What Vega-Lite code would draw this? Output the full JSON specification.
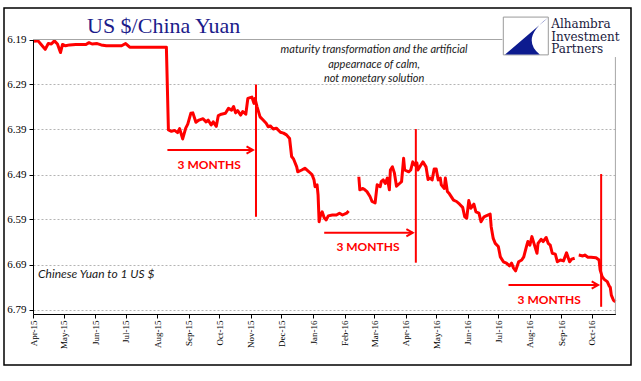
{
  "$schema": "https://vega.github.io/schema/vega-lite/v6.json",
  "width": 627,
  "height": 357,
  "autosize": {"type": "none"},
  "padding": {"left": 4, "top": 8, "right": 10, "bottom": 16},
  "background": "white",
  "config": {"view": {"stroke": "black", "strokeWidth": 1.5}},
  "title": {"text": "US $/China Yuan", "font": "Liberation Serif", "fontSize": 22, "fontWeight": "normal", "color": "#1b1b8a", "anchor": "start", "frame": "group", "dx": 83, "offset": -23, "dy": 24, "baseline": "alphabetic"},
  "data": {"values": [{}]},
  "datasets": {
    "rate": [
      {"date": "2015-04-02", "rate": 6.194, "seg": 1},
      {"date": "2015-04-06", "rate": 6.193, "seg": 1},
      {"date": "2015-04-09", "rate": 6.201, "seg": 1},
      {"date": "2015-04-13", "rate": 6.212, "seg": 1},
      {"date": "2015-04-16", "rate": 6.199, "seg": 1},
      {"date": "2015-04-19", "rate": 6.200, "seg": 1},
      {"date": "2015-04-22", "rate": 6.193, "seg": 1},
      {"date": "2015-04-25", "rate": 6.200, "seg": 1},
      {"date": "2015-04-28", "rate": 6.219, "seg": 1},
      {"date": "2015-04-30", "rate": 6.201, "seg": 1},
      {"date": "2015-05-03", "rate": 6.204, "seg": 1},
      {"date": "2015-05-07", "rate": 6.202, "seg": 1},
      {"date": "2015-05-13", "rate": 6.201, "seg": 1},
      {"date": "2015-05-18", "rate": 6.201, "seg": 1},
      {"date": "2015-05-23", "rate": 6.201, "seg": 1},
      {"date": "2015-05-26", "rate": 6.197, "seg": 1},
      {"date": "2015-05-29", "rate": 6.200, "seg": 1},
      {"date": "2015-06-03", "rate": 6.199, "seg": 1},
      {"date": "2015-06-07", "rate": 6.202, "seg": 1},
      {"date": "2015-06-12", "rate": 6.204, "seg": 1},
      {"date": "2015-06-20", "rate": 6.204, "seg": 1},
      {"date": "2015-06-27", "rate": 6.204, "seg": 1},
      {"date": "2015-07-01", "rate": 6.199, "seg": 1},
      {"date": "2015-07-05", "rate": 6.207, "seg": 1},
      {"date": "2015-07-12", "rate": 6.207, "seg": 1},
      {"date": "2015-07-22", "rate": 6.207, "seg": 1},
      {"date": "2015-07-31", "rate": 6.207, "seg": 1},
      {"date": "2015-08-07", "rate": 6.207, "seg": 1},
      {"date": "2015-08-10", "rate": 6.207, "seg": 1},
      {"date": "2015-08-12", "rate": 6.391, "seg": 1},
      {"date": "2015-08-15", "rate": 6.394, "seg": 1},
      {"date": "2015-08-18", "rate": 6.392, "seg": 1},
      {"date": "2015-08-21", "rate": 6.397, "seg": 1},
      {"date": "2015-08-23", "rate": 6.388, "seg": 1},
      {"date": "2015-08-26", "rate": 6.411, "seg": 1},
      {"date": "2015-08-29", "rate": 6.387, "seg": 1},
      {"date": "2015-08-31", "rate": 6.378, "seg": 1},
      {"date": "2015-09-03", "rate": 6.354, "seg": 1},
      {"date": "2015-09-05", "rate": 6.353, "seg": 1},
      {"date": "2015-09-08", "rate": 6.374, "seg": 1},
      {"date": "2015-09-11", "rate": 6.369, "seg": 1},
      {"date": "2015-09-15", "rate": 6.366, "seg": 1},
      {"date": "2015-09-18", "rate": 6.373, "seg": 1},
      {"date": "2015-09-20", "rate": 6.369, "seg": 1},
      {"date": "2015-09-23", "rate": 6.380, "seg": 1},
      {"date": "2015-09-25", "rate": 6.373, "seg": 1},
      {"date": "2015-09-28", "rate": 6.383, "seg": 1},
      {"date": "2015-09-30", "rate": 6.359, "seg": 1},
      {"date": "2015-10-03", "rate": 6.356, "seg": 1},
      {"date": "2015-10-07", "rate": 6.354, "seg": 1},
      {"date": "2015-10-10", "rate": 6.343, "seg": 1},
      {"date": "2015-10-13", "rate": 6.347, "seg": 1},
      {"date": "2015-10-15", "rate": 6.339, "seg": 1},
      {"date": "2015-10-17", "rate": 6.353, "seg": 1},
      {"date": "2015-10-19", "rate": 6.348, "seg": 1},
      {"date": "2015-10-22", "rate": 6.358, "seg": 1},
      {"date": "2015-10-24", "rate": 6.350, "seg": 1},
      {"date": "2015-10-27", "rate": 6.356, "seg": 1},
      {"date": "2015-10-29", "rate": 6.321, "seg": 1},
      {"date": "2015-11-02", "rate": 6.318, "seg": 1},
      {"date": "2015-11-04", "rate": 6.332, "seg": 1},
      {"date": "2015-11-05", "rate": 6.321, "seg": 1},
      {"date": "2015-11-07", "rate": 6.339, "seg": 1},
      {"date": "2015-11-10", "rate": 6.362, "seg": 1},
      {"date": "2015-11-13", "rate": 6.369, "seg": 1},
      {"date": "2015-11-16", "rate": 6.376, "seg": 1},
      {"date": "2015-11-18", "rate": 6.384, "seg": 1},
      {"date": "2015-11-20", "rate": 6.382, "seg": 1},
      {"date": "2015-11-23", "rate": 6.389, "seg": 1},
      {"date": "2015-11-26", "rate": 6.387, "seg": 1},
      {"date": "2015-11-30", "rate": 6.396, "seg": 1},
      {"date": "2015-12-03", "rate": 6.398, "seg": 1},
      {"date": "2015-12-06", "rate": 6.402, "seg": 1},
      {"date": "2015-12-09", "rate": 6.410, "seg": 1},
      {"date": "2015-12-11", "rate": 6.450, "seg": 1},
      {"date": "2015-12-13", "rate": 6.456, "seg": 1},
      {"date": "2015-12-16", "rate": 6.473, "seg": 1},
      {"date": "2015-12-17", "rate": 6.484, "seg": 1},
      {"date": "2015-12-21", "rate": 6.480, "seg": 1},
      {"date": "2015-12-24", "rate": 6.476, "seg": 1},
      {"date": "2015-12-27", "rate": 6.482, "seg": 1},
      {"date": "2015-12-31", "rate": 6.490, "seg": 1},
      {"date": "2016-01-02", "rate": 6.502, "seg": 1},
      {"date": "2016-01-03", "rate": 6.517, "seg": 1},
      {"date": "2016-01-05", "rate": 6.513, "seg": 1},
      {"date": "2016-01-06", "rate": 6.536, "seg": 1},
      {"date": "2016-01-07", "rate": 6.595, "seg": 1},
      {"date": "2016-01-08", "rate": 6.584, "seg": 1},
      {"date": "2016-01-10", "rate": 6.573, "seg": 1},
      {"date": "2016-01-12", "rate": 6.586, "seg": 1},
      {"date": "2016-01-14", "rate": 6.591, "seg": 1},
      {"date": "2016-01-16", "rate": 6.582, "seg": 1},
      {"date": "2016-01-20", "rate": 6.580, "seg": 1},
      {"date": "2016-01-24", "rate": 6.580, "seg": 1},
      {"date": "2016-01-27", "rate": 6.576, "seg": 1},
      {"date": "2016-01-30", "rate": 6.580, "seg": 1},
      {"date": "2016-02-03", "rate": 6.576, "seg": 1},
      {"date": "2016-02-05", "rate": 6.571, "seg": 1},
      {"date": "2016-02-15", "rate": 6.495, "seg": 2},
      {"date": "2016-02-16", "rate": 6.524, "seg": 2},
      {"date": "2016-02-19", "rate": 6.521, "seg": 2},
      {"date": "2016-02-21", "rate": 6.524, "seg": 2},
      {"date": "2016-02-23", "rate": 6.528, "seg": 2},
      {"date": "2016-02-26", "rate": 6.539, "seg": 2},
      {"date": "2016-02-28", "rate": 6.550, "seg": 2},
      {"date": "2016-03-02", "rate": 6.553, "seg": 2},
      {"date": "2016-03-04", "rate": 6.513, "seg": 2},
      {"date": "2016-03-07", "rate": 6.517, "seg": 2},
      {"date": "2016-03-08", "rate": 6.506, "seg": 2},
      {"date": "2016-03-10", "rate": 6.502, "seg": 2},
      {"date": "2016-03-12", "rate": 6.510, "seg": 2},
      {"date": "2016-03-14", "rate": 6.498, "seg": 2},
      {"date": "2016-03-16", "rate": 6.524, "seg": 2},
      {"date": "2016-03-17", "rate": 6.480, "seg": 2},
      {"date": "2016-03-19", "rate": 6.473, "seg": 2},
      {"date": "2016-03-21", "rate": 6.487, "seg": 2},
      {"date": "2016-03-23", "rate": 6.516, "seg": 2},
      {"date": "2016-03-26", "rate": 6.510, "seg": 2},
      {"date": "2016-03-28", "rate": 6.506, "seg": 2},
      {"date": "2016-03-30", "rate": 6.454, "seg": 2},
      {"date": "2016-03-31", "rate": 6.480, "seg": 2},
      {"date": "2016-04-04", "rate": 6.484, "seg": 2},
      {"date": "2016-04-06", "rate": 6.480, "seg": 2},
      {"date": "2016-04-08", "rate": 6.462, "seg": 2},
      {"date": "2016-04-10", "rate": 6.469, "seg": 2},
      {"date": "2016-04-12", "rate": 6.464, "seg": 2},
      {"date": "2016-04-13", "rate": 6.480, "seg": 2},
      {"date": "2016-04-16", "rate": 6.469, "seg": 2},
      {"date": "2016-04-18", "rate": 6.462, "seg": 2},
      {"date": "2016-04-21", "rate": 6.473, "seg": 2},
      {"date": "2016-04-23", "rate": 6.501, "seg": 2},
      {"date": "2016-04-25", "rate": 6.498, "seg": 2},
      {"date": "2016-04-27", "rate": 6.502, "seg": 2},
      {"date": "2016-04-29", "rate": 6.478, "seg": 2},
      {"date": "2016-05-01", "rate": 6.478, "seg": 2},
      {"date": "2016-05-03", "rate": 6.502, "seg": 2},
      {"date": "2016-05-05", "rate": 6.498, "seg": 2},
      {"date": "2016-05-06", "rate": 6.513, "seg": 2},
      {"date": "2016-05-09", "rate": 6.521, "seg": 2},
      {"date": "2016-05-10", "rate": 6.498, "seg": 2},
      {"date": "2016-05-12", "rate": 6.528, "seg": 2},
      {"date": "2016-05-14", "rate": 6.533, "seg": 2},
      {"date": "2016-05-18", "rate": 6.547, "seg": 2},
      {"date": "2016-05-21", "rate": 6.550, "seg": 2},
      {"date": "2016-05-24", "rate": 6.556, "seg": 2},
      {"date": "2016-05-27", "rate": 6.563, "seg": 2},
      {"date": "2016-05-29", "rate": 6.584, "seg": 2},
      {"date": "2016-05-31", "rate": 6.587, "seg": 2},
      {"date": "2016-06-02", "rate": 6.548, "seg": 2},
      {"date": "2016-06-04", "rate": 6.565, "seg": 2},
      {"date": "2016-06-07", "rate": 6.556, "seg": 2},
      {"date": "2016-06-09", "rate": 6.573, "seg": 2},
      {"date": "2016-06-12", "rate": 6.576, "seg": 2},
      {"date": "2016-06-14", "rate": 6.595, "seg": 2},
      {"date": "2016-06-17", "rate": 6.584, "seg": 2},
      {"date": "2016-06-19", "rate": 6.582, "seg": 2},
      {"date": "2016-06-23", "rate": 6.578, "seg": 2},
      {"date": "2016-06-24", "rate": 6.606, "seg": 2},
      {"date": "2016-06-26", "rate": 6.632, "seg": 2},
      {"date": "2016-06-28", "rate": 6.643, "seg": 2},
      {"date": "2016-07-01", "rate": 6.650, "seg": 2},
      {"date": "2016-07-03", "rate": 6.673, "seg": 2},
      {"date": "2016-07-06", "rate": 6.684, "seg": 2},
      {"date": "2016-07-09", "rate": 6.687, "seg": 2},
      {"date": "2016-07-12", "rate": 6.693, "seg": 2},
      {"date": "2016-07-14", "rate": 6.687, "seg": 2},
      {"date": "2016-07-16", "rate": 6.698, "seg": 2},
      {"date": "2016-07-18", "rate": 6.704, "seg": 2},
      {"date": "2016-07-21", "rate": 6.684, "seg": 2},
      {"date": "2016-07-24", "rate": 6.680, "seg": 2},
      {"date": "2016-07-26", "rate": 6.673, "seg": 2},
      {"date": "2016-07-29", "rate": 6.647, "seg": 2},
      {"date": "2016-07-30", "rate": 6.639, "seg": 2},
      {"date": "2016-08-01", "rate": 6.647, "seg": 2},
      {"date": "2016-08-03", "rate": 6.628, "seg": 2},
      {"date": "2016-08-05", "rate": 6.643, "seg": 2},
      {"date": "2016-08-08", "rate": 6.665, "seg": 2},
      {"date": "2016-08-09", "rate": 6.643, "seg": 2},
      {"date": "2016-08-12", "rate": 6.634, "seg": 2},
      {"date": "2016-08-14", "rate": 6.639, "seg": 2},
      {"date": "2016-08-17", "rate": 6.630, "seg": 2},
      {"date": "2016-08-19", "rate": 6.643, "seg": 2},
      {"date": "2016-08-21", "rate": 6.647, "seg": 2},
      {"date": "2016-08-23", "rate": 6.665, "seg": 2},
      {"date": "2016-08-26", "rate": 6.667, "seg": 2},
      {"date": "2016-08-28", "rate": 6.684, "seg": 2},
      {"date": "2016-08-31", "rate": 6.680, "seg": 2},
      {"date": "2016-09-03", "rate": 6.682, "seg": 2},
      {"date": "2016-09-06", "rate": 6.664, "seg": 2},
      {"date": "2016-09-09", "rate": 6.684, "seg": 2},
      {"date": "2016-09-11", "rate": 6.678, "seg": 2},
      {"date": "2016-09-14", "rate": 6.676, "seg": 2},
      {"date": "2016-09-18", "rate": 6.669, "seg": 3},
      {"date": "2016-09-22", "rate": 6.671, "seg": 3},
      {"date": "2016-09-24", "rate": 6.669, "seg": 3},
      {"date": "2016-09-27", "rate": 6.674, "seg": 3},
      {"date": "2016-09-30", "rate": 6.674, "seg": 3},
      {"date": "2016-10-05", "rate": 6.675, "seg": 3},
      {"date": "2016-10-08", "rate": 6.680, "seg": 3},
      {"date": "2016-10-09", "rate": 6.702, "seg": 3},
      {"date": "2016-10-11", "rate": 6.717, "seg": 3},
      {"date": "2016-10-13", "rate": 6.723, "seg": 3},
      {"date": "2016-10-16", "rate": 6.728, "seg": 3},
      {"date": "2016-10-18", "rate": 6.738, "seg": 3},
      {"date": "2016-10-19", "rate": 6.741, "seg": 3},
      {"date": "2016-10-20", "rate": 6.758, "seg": 3},
      {"date": "2016-10-22", "rate": 6.769, "seg": 3},
      {"date": "2016-10-24", "rate": 6.773, "seg": 3}
    ],
    "vlines": [
      {"date": "2015-11-06", "top": 6.29, "bottom": 6.584},
      {"date": "2016-04-11", "top": 6.389, "bottom": 6.686},
      {"date": "2016-10-10", "top": 6.489, "bottom": 6.784}
    ],
    "arrows": [
      {"start": "2015-08-11", "end": "2015-11-03", "level": 6.4356},
      {"start": "2016-01-12", "end": "2016-04-08", "level": 6.6193},
      {"start": "2016-07-11", "end": "2016-10-07", "level": 6.7356}
    ],
    "labels": [
      {"date": "2015-09-21", "rate": 6.4767, "text": "3 MONTHS"},
      {"date": "2016-02-24", "rate": 6.661, "text": "3 MONTHS"},
      {"date": "2016-08-20", "rate": 6.7778, "text": "3 MONTHS"}
    ]
  },
  "layer": [
    {
      "data": {"name": "rate"},
      "mark": {"type": "line", "color": "#ff0000", "strokeWidth": 3, "strokeJoin": "round"},
      "encoding": {
        "x": {
          "field": "date", "type": "temporal",
          "scale": {"type": "utc", "domain": [{"year": 2015, "month": 4, "date": 1, "utc": true}, {"year": 2016, "month": 10, "date": 24, "utc": true}], "range": [29, 611.4], "nice": false},
          "axis": {"orient": "bottom", "offset": -51, "format": "%b-%y", "labelAngle": 270, "labelFont": "Liberation Serif", "labelFontSize": 9, "labelColor": "black", "tickColor": "black", "domainColor": "black", "tickSize": 4, "labelPadding": 2, "tickCount": {"interval": "month", "step": 1}, "grid": false, "title": null, "labelBound": false, "labelOverlap": false, "labelFlush": false}
        },
        "y": {
          "field": "rate", "type": "quantitative",
          "scale": {"domain": [6.19, 6.8], "range": [31.5, 306], "nice": false, "zero": false},
          "axis": {"orient": "left", "offset": -29, "values": [6.19, 6.29, 6.39, 6.49, 6.59, 6.69, 6.79], "format": ".2f", "labelFont": "Liberation Serif", "labelFontSize": 11, "labelColor": "black", "tickSize": 4, "labelPadding": 3, "tickColor": "black", "domainColor": "black", "grid": true, "gridDash": [2, 2], "gridColor": "#b4b4b4", "gridOpacity": {"condition": {"test": "datum.value < 6.2", "value": 0}, "value": 1}, "title": null}
        },
        "detail": {"field": "seg"}
      }
    },
    {
      "mark": {"type": "rule", "color": "#a6a6a6", "strokeWidth": 1},
      "encoding": {
        "x": {"datum": {"year": 2015, "month": 4, "date": 1, "utc": true}, "type": "temporal"},
        "x2": {"datum": {"year": 2016, "month": 7, "date": 5, "utc": true}},
        "y": {"datum": 6.19, "type": "quantitative"}
      }
    },
    {
      "mark": {"type": "rule", "color": "#a6a6a6", "strokeWidth": 1},
      "encoding": {
        "x": {"datum": {"year": 2016, "month": 10, "date": 24, "utc": true}, "type": "temporal"},
        "y": {"datum": 6.229, "type": "quantitative"},
        "y2": {"datum": 6.8}
      }
    },
    {
      "data": {"name": "vlines"},
      "mark": {"type": "rule", "color": "#ff0000", "strokeWidth": 2},
      "encoding": {
        "x": {"field": "date", "type": "temporal"},
        "y": {"field": "top", "type": "quantitative"},
        "y2": {"field": "bottom"}
      }
    },
    {
      "data": {"name": "arrows"},
      "mark": {"type": "rule", "color": "#ff0000", "strokeWidth": 2},
      "encoding": {
        "x": {"field": "start", "type": "temporal"},
        "x2": {"field": "end"},
        "y": {"field": "level", "type": "quantitative"}
      }
    },
    {
      "data": {"name": "arrows"},
      "mark": {"type": "point", "shape": "M -1.6 -0.9 L 0 0 L -1.6 0.9", "filled": false, "stroke": "#ff0000", "strokeWidth": 2, "size": 64, "opacity": 1},
      "encoding": {
        "x": {"field": "end", "type": "temporal"},
        "y": {"field": "level", "type": "quantitative"}
      }
    },
    {
      "data": {"name": "labels"},
      "mark": {"type": "text", "font": "Lato", "fontSize": 12, "fontWeight": "bold", "color": "#ff0000", "align": "center", "baseline": "alphabetic"},
      "encoding": {
        "x": {"field": "date", "type": "temporal"},
        "y": {"field": "rate", "type": "quantitative"},
        "text": {"field": "text"}
      }
    },
    {
      "mark": {"type": "text", "font": "Lato", "fontSize": 11, "fontStyle": "italic", "color": "#1a1a1a", "align": "center", "baseline": "alphabetic", "lineHeight": 14.5},
      "encoding": {
        "x": {"datum": {"year": 2016, "month": 3, "date": 1, "utc": true}, "type": "temporal"},
        "y": {"datum": 6.22, "type": "quantitative"},
        "text": {"value": ["maturity transformation and the artificial", "appearnace of calm,", "not monetary solution"]}
      }
    },
    {
      "mark": {"type": "text", "font": "Lato", "fontSize": 12, "fontStyle": "italic", "color": "#1a1a1a", "align": "left", "baseline": "alphabetic"},
      "encoding": {
        "x": {"datum": {"year": 2015, "month": 4, "date": 6, "utc": true}, "type": "temporal"},
        "y": {"datum": 6.72, "type": "quantitative"},
        "text": {"value": "Chinese Yuan to 1 US $"}
      }
    },
    {
      "mark": {"type": "point", "shape": "M -1 -0.84 L 1 -0.84 L 1 0.84 L -1 0.84 Z", "filled": true, "fill": "white", "stroke": "#9a9a9a", "strokeWidth": 1, "size": 2025, "opacity": 1},
      "encoding": {
        "x": {"datum": {"year": 2016, "month": 7, "date": 28, "utc": true}, "type": "temporal"},
        "y": {"datum": 6.1822, "type": "quantitative"}
      }
    },
    {
      "mark": {"type": "point", "shape": "M 1 -0.82 L -0.92 0.82 L 0.62 0.82 Q -0.25 0.1 1 -0.82 Z", "filled": true, "fill": "#0d1b8f", "strokeWidth": 0, "size": 2025, "opacity": 1},
      "encoding": {
        "x": {"datum": {"year": 2016, "month": 7, "date": 28, "utc": true}, "type": "temporal"},
        "y": {"datum": 6.1822, "type": "quantitative"}
      }
    },
    {
      "mark": {"type": "text", "font": "DejaVu Serif", "fontSize": 12, "color": "#1a1a40", "align": "left", "baseline": "alphabetic", "lineHeight": 12.6},
      "encoding": {
        "x": {"datum": {"year": 2016, "month": 8, "date": 22, "utc": true}, "type": "temporal"},
        "y": {"datum": 6.1644, "type": "quantitative"},
        "text": {"value": ["Alhambra", "Investment", "Partners"]}
      }
    }
  ]
}
